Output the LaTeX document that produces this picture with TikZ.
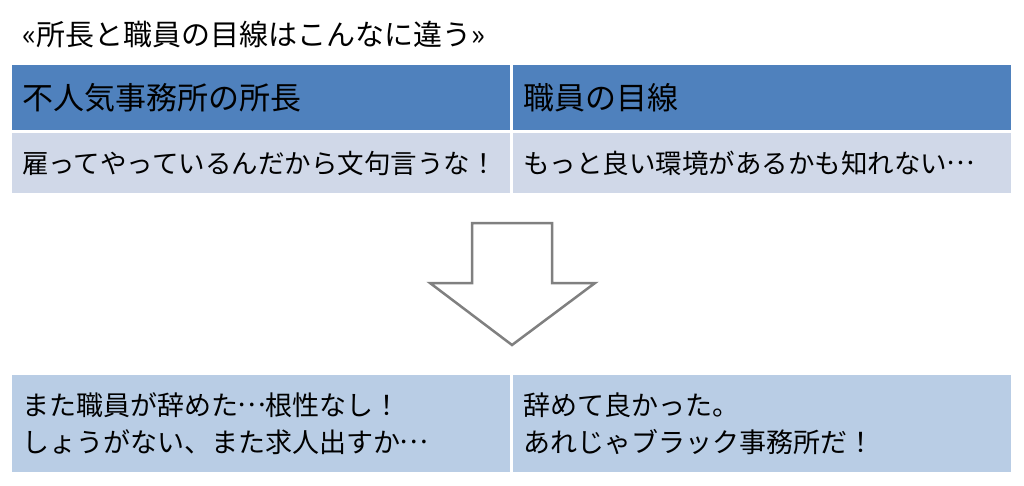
\documentclass[tikz,border=0pt]{standalone}
\usepackage{fontspec}
\setmainfont{Noto Sans CJK JP}

\definecolor{hdrblue}{HTML}{4F81BD}
\definecolor{msggray}{HTML}{D0D8E8}
\definecolor{resblue}{HTML}{B9CDE5}
\definecolor{arrowgray}{HTML}{808080}
\newcommand{\jdots}{\makebox[1em]{\raisebox{0.32em}{…}}}

\begin{document}
\begin{tikzpicture}[x=1pt,y=-1pt,
    cell/.style={anchor=north west, inner xsep=10pt, inner ysep=0pt,
        text width=478pt, align=left},
    hdr/.style={cell, fill=hdrblue, minimum height=65pt,
        font=\fontsize{31}{36}\selectfont},
    msg/.style={cell, fill=msggray, minimum height=60pt,
        font=\fontsize{26.5}{32}\selectfont},
    res/.style={cell, fill=resblue, minimum height=97pt,
        font=\fontsize{27}{37}\selectfont}]
    \useasboundingbox (0,0) rectangle (1024,485);
    \node[anchor=west, inner sep=0pt, font=\fontsize{29}{34}\selectfont] (title) at (22,35)
        {«所長と職員の目線はこんなに違う»};
    % table
    \node[hdr] (lhead) at (12,65)  {不人気事務所の所長};
    \node[hdr] (rhead) at (513,65) {職員の目線};
    \node[msg] (lmsg)  at (12,133) {雇ってやっているんだから文句言うな！};
    \node[msg] (rmsg)  at (513,133) {もっと良い環境があるかも知れない\jdots};
    % arrow
    \draw[arrowgray, line width=2.5pt, fill=white]
        (472,223) -- (552,223) -- (552,283) -- (595,283) -- (512,345)
        -- (430,283) -- (472,283) -- cycle;
    % result
    \node[res] (lres) at (12,375)  {また職員が辞めた\jdots 根性なし！\\しょうがない、また求人出すか\jdots};
    \node[res] (rres) at (513,375) {辞めて良かった。\\あれじゃブラック事務所だ！};
\end{tikzpicture}
\end{document}
